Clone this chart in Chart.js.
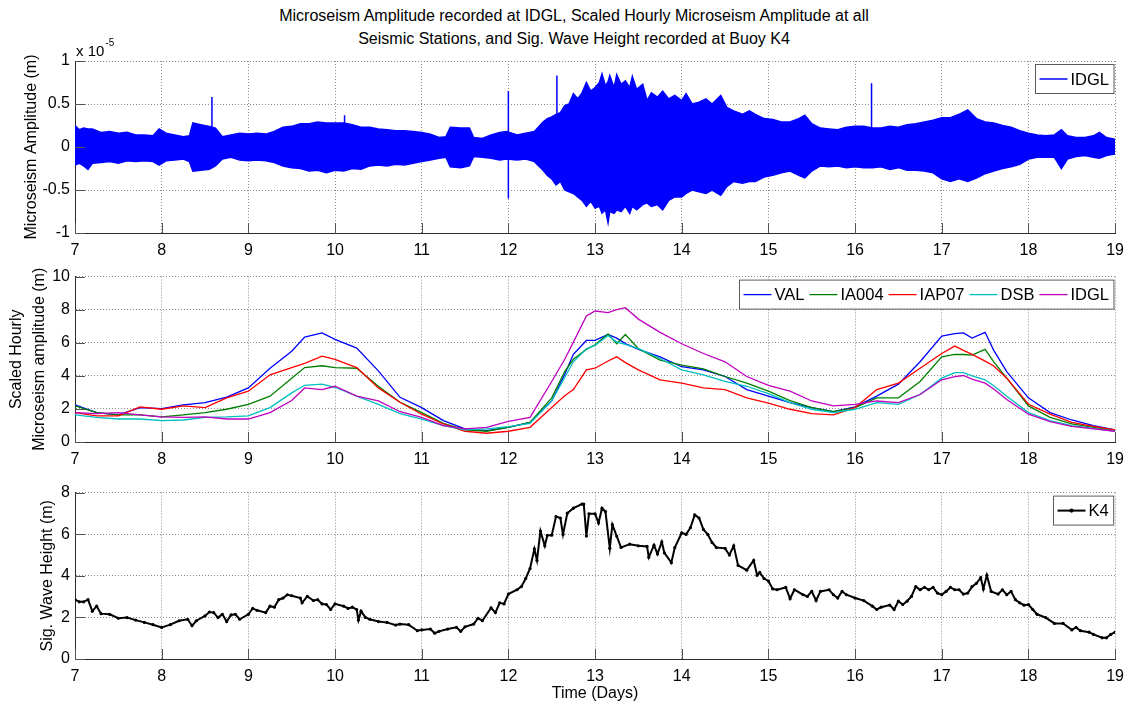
<!DOCTYPE html>
<html>
<head>
<meta charset="utf-8">
<script src="https://cdn.jsdelivr.net/npm/chart.js@4.4.0/dist/chart.umd.min.js"></script>
<style>
  body { margin: 0; background: #fff; width: 1132px; height: 709px; position: relative; overflow: hidden;
         font-family: "Liberation Sans", Arial, sans-serif; }
  .title { position: absolute; left: 0; width: 1148px; top: 4px; text-align: center; font-size: 16px; line-height: 23px; color: #000; }
  canvas { position: absolute; left: 0; }
</style>
</head>
<body>
<div class="title">Microseism Amplitude recorded at IDGL, Scaled Hourly Microseism Amplitude at all<br>Seismic Stations, and Sig. Wave Height recorded at Buoy K4</div>
<canvas id="ampChart" width="1132" height="225" style="top:35px"></canvas>
<canvas id="hourlyChart" width="1132" height="207" style="top:262px"></canvas>
<canvas id="waveChart" width="1132" height="231" style="top:478px"></canvas>
<script>
"use strict";

// ---- data (days since start, amplitudes in units of 1e-5 m) ----
const DAY_MIN = 7;
const DAY_MAX = 19;

// envelope of the raw IDGL trace
const ampDays = [
  7.00, 7.05, 7.10, 7.15, 7.20, 7.30, 7.40, 7.50, 7.60, 7.70,
  7.80, 7.90, 7.97, 8.05, 8.15, 8.25, 8.32, 8.36, 8.45, 8.55,
  8.62, 8.70, 8.80, 8.90, 9.00, 9.10, 9.20, 9.30, 9.40, 9.50,
  9.60, 9.70, 9.80, 9.90, 10.00, 10.10, 10.20, 10.30, 10.40, 10.50,
  10.60, 10.70, 10.80, 10.90, 11.00, 11.10, 11.20, 11.28, 11.33, 11.45,
  11.55, 11.60, 11.70, 11.80, 11.90, 11.98, 12.10, 12.20, 12.30,
  12.40, 12.45, 12.50, 12.55, 12.60, 12.65, 12.70, 12.75, 12.80, 12.85, 12.90,
  12.95, 13.00, 13.05, 13.08, 13.12, 13.15, 13.17, 13.22, 13.25, 13.30, 13.35,
  13.40, 13.43, 13.48, 13.55, 13.60, 13.65, 13.72, 13.78, 13.85, 13.92, 14.00,
  14.05, 14.12, 14.20, 14.28, 14.35, 14.45, 14.52, 14.60, 14.70, 14.78, 14.85,
  14.95, 15.05, 15.15, 15.25,
  15.35, 15.42, 15.50, 15.60, 15.70, 15.80, 15.90, 16.00, 16.10, 16.20,
  16.30, 16.40, 16.50, 16.60, 16.70, 16.80, 16.90, 17.00, 17.10, 17.20,
  17.30, 17.40, 17.50, 17.60, 17.70, 17.80, 17.90, 18.00, 18.10, 18.20,
  18.30, 18.38, 18.45, 18.55, 18.65, 18.75, 18.82, 18.90, 19.00
];
const ampUpper = [
  0.25, 0.20, 0.22, 0.21, 0.21, 0.17, 0.18, 0.16, 0.17, 0.14,
  0.14, 0.13, 0.21, 0.16, 0.14, 0.12, 0.13, 0.28, 0.26, 0.24,
  0.22, 0.12, 0.14, 0.16, 0.15, 0.16, 0.15, 0.18, 0.23, 0.24,
  0.27, 0.27, 0.29, 0.28, 0.28, 0.28, 0.26, 0.23, 0.23, 0.21,
  0.20, 0.19, 0.19, 0.18, 0.17, 0.15, 0.11, 0.12, 0.23, 0.22,
  0.22, 0.11, 0.10, 0.14, 0.17, 0.18, 0.14, 0.16, 0.18,
  0.29, 0.33, 0.35, 0.38, 0.40, 0.48, 0.50, 0.62, 0.56, 0.63, 0.75,
  0.65, 0.69, 0.75, 0.85, 0.71, 0.76, 0.83, 0.69, 0.84, 0.73, 0.77,
  0.69, 0.82, 0.67, 0.73, 0.54, 0.63, 0.58, 0.65, 0.56, 0.60, 0.54,
  0.62, 0.50, 0.52, 0.56, 0.50, 0.60, 0.46, 0.42, 0.38, 0.42, 0.38,
  0.33, 0.32, 0.29, 0.29,
  0.33, 0.37, 0.27, 0.22, 0.21, 0.20, 0.23, 0.24, 0.24, 0.22,
  0.22, 0.24, 0.23, 0.26, 0.27, 0.29, 0.31, 0.34, 0.34, 0.38,
  0.43, 0.33, 0.29, 0.28, 0.25, 0.23, 0.19, 0.16, 0.14, 0.13,
  0.14, 0.20, 0.13, 0.11, 0.11, 0.13, 0.17, 0.11, 0.09
];
const ampLower = [
  -0.21, -0.19, -0.22, -0.26, -0.19, -0.18, -0.17, -0.19, -0.16, -0.17,
  -0.16, -0.17, -0.21, -0.16, -0.15, -0.14, -0.17, -0.28, -0.27, -0.26,
  -0.22, -0.14, -0.12, -0.15, -0.16, -0.15, -0.16, -0.18, -0.22, -0.24,
  -0.25, -0.28, -0.27, -0.30, -0.27, -0.28, -0.25, -0.26, -0.22, -0.21,
  -0.22, -0.20, -0.21, -0.19, -0.17, -0.15, -0.13, -0.12, -0.23, -0.24,
  -0.22, -0.11, -0.12, -0.13, -0.15, -0.14, -0.15, -0.14, -0.17,
  -0.27, -0.33, -0.37, -0.44, -0.40, -0.50, -0.52, -0.54, -0.58, -0.62, -0.69,
  -0.63, -0.71, -0.69, -0.77, -0.73, -0.88, -0.75, -0.77, -0.73, -0.75, -0.69,
  -0.77, -0.69, -0.73, -0.67, -0.65, -0.69, -0.67, -0.73, -0.62, -0.58, -0.58,
  -0.54, -0.50, -0.52, -0.54, -0.50, -0.56, -0.46, -0.40, -0.42, -0.40, -0.40,
  -0.35, -0.33, -0.30, -0.28,
  -0.33, -0.36, -0.28, -0.22, -0.23, -0.22, -0.24, -0.23, -0.24, -0.24,
  -0.23, -0.26, -0.24, -0.27, -0.27, -0.28, -0.30, -0.37, -0.40, -0.37,
  -0.40, -0.36, -0.31, -0.28, -0.25, -0.23, -0.20, -0.14, -0.12, -0.12,
  -0.12, -0.25, -0.14, -0.11, -0.10, -0.12, -0.13, -0.10, -0.08
];
// isolated glitches in the trace
const spikeDays = [8.58, 10.11, 12.00, 12.56, 16.19];
const spikeTops = [0.58, 0.37, 0.65, 0.83, 0.74];
const spikeBottoms = [0, 0, -0.60, 0, 0];

// scaled hourly amplitude, all stations
const stationDays = [
  7, 7.25, 7.5, 7.75, 8, 8.25, 8.5, 8.75,
  9, 9.25, 9.5, 9.65, 9.85,
  10, 10.25, 10.5, 10.75,
  11, 11.25, 11.5, 11.75,
  12, 12.25, 12.5, 12.65, 12.75, 12.9,
  13, 13.15, 13.25, 13.35, 13.5, 13.75,
  14, 14.25, 14.5, 14.75,
  15, 15.25, 15.5, 15.75,
  16, 16.25, 16.5, 16.75,
  17, 17.15, 17.25, 17.35, 17.5, 17.6, 17.75,
  18, 18.25, 18.5, 18.75,
  19
];
const valAmp = [
  2.24, 1.78, 1.64, 2.08, 2.02, 2.24, 2.38, 2.71,
  3.27, 4.46, 5.49, 6.34, 6.60,
  6.20, 5.68, 4.30, 2.70,
  2.08, 1.29, 0.79, 0.69,
  0.89, 1.19, 2.48, 4.10, 5.30, 6.14,
  6.14, 6.50, 6.28, 5.95, 5.60, 5.15,
  4.55, 4.36, 3.96, 3.17,
  2.77, 2.38, 2.08, 1.84,
  2.12, 2.77, 3.50, 4.85,
  6.40, 6.55, 6.60, 6.28, 6.63, 5.54, 4.26,
  2.67, 1.78, 1.33, 0.99,
  0.73
];
const ia004Amp = [
  2.18, 1.78, 1.64, 1.64, 1.52, 1.64, 1.78, 1.98,
  2.28, 2.77, 3.86, 4.50, 4.61,
  4.50, 4.46, 3.37, 2.40,
  1.78, 1.13, 0.73, 0.65,
  0.89, 1.19, 2.67, 4.26, 5.00, 5.60,
  5.88, 6.53, 5.94, 6.50, 5.64, 4.95,
  4.65, 4.42, 3.96, 3.56,
  3.07, 2.50, 2.08, 1.84,
  2.08, 2.67, 2.67, 3.66,
  5.15, 5.30, 5.29, 5.25, 5.60, 4.85, 3.86,
  2.18, 1.49, 1.09, 0.89,
  0.69
];
const iap07Amp = [
  1.78, 1.58, 1.58, 2.12, 1.98, 2.18, 2.08, 2.67,
  3.07, 4.06, 4.50, 4.75, 5.19,
  5.00, 4.50, 3.27, 2.40,
  1.68, 1.09, 0.65, 0.53,
  0.65, 0.89, 2.08, 2.80, 3.17, 4.36,
  4.46, 4.90, 5.15, 4.80, 4.36, 3.76,
  3.56, 3.27, 3.17, 2.67,
  2.35, 1.98, 1.72, 1.64,
  2.08, 3.17, 3.56, 4.46,
  5.35, 5.80, 5.54, 5.30, 4.89, 4.60, 3.86,
  2.28, 1.68, 1.19, 0.95,
  0.73
];
const dsbAmp = [
  1.64, 1.49, 1.39, 1.39, 1.29, 1.33, 1.49, 1.52,
  1.58, 2.08, 2.97, 3.43, 3.50,
  3.31, 2.77, 2.28, 1.72,
  1.39, 0.99, 0.73, 0.79,
  0.93, 1.13, 2.48, 3.90, 4.85, 5.64,
  5.84, 6.44, 6.04, 5.90, 5.64, 5.05,
  4.36, 4.06, 3.66, 3.37,
  2.92, 2.38, 1.98, 1.78,
  1.98, 2.38, 2.28, 2.87,
  3.86, 4.20, 4.20, 4.00, 3.76, 3.40, 2.77,
  1.78, 1.29, 0.99, 0.83,
  0.65
];
const idglAmp = [
  1.78, 1.72, 1.78, 1.64, 1.52, 1.49, 1.52, 1.39,
  1.39, 1.78, 2.51, 3.27, 3.17,
  3.37, 2.77, 2.48, 1.83,
  1.49, 0.99, 0.79, 0.89,
  1.25, 1.49, 3.66, 5.00, 6.04, 7.62,
  7.92, 7.82, 8.00, 8.12, 7.43, 6.63,
  5.94, 5.35, 4.85, 3.96,
  3.42, 3.07, 2.48, 2.18,
  2.28, 2.48, 2.38, 2.87,
  3.76, 3.95, 4.02, 3.80, 3.56, 3.20, 2.57,
  1.68, 1.23, 0.95, 0.79,
  0.65
];
const stationNames = ['VAL', 'IA004', 'IAP07', 'DSB', 'IDGL'];

// significant wave height at buoy K4 (m)
const k4Days = [
  7.00, 7.05, 7.10, 7.15, 7.20, 7.25, 7.30, 7.40, 7.50, 7.60,
  7.70, 7.80, 7.90, 8.00, 8.10, 8.20, 8.30, 8.35, 8.40, 8.50,
  8.55, 8.60, 8.65, 8.70, 8.75, 8.80, 8.85, 8.90, 9.00, 9.05,
  9.10, 9.20, 9.25, 9.30, 9.35, 9.40, 9.45, 9.50, 9.60, 9.62,
  9.68, 9.75, 9.80, 9.85, 9.90, 9.95, 10.00, 10.10, 10.15, 10.20,
  10.25, 10.27, 10.30, 10.35, 10.40, 10.50, 10.60, 10.70, 10.75, 10.85,
  10.95, 11.00, 11.10, 11.15, 11.20, 11.30, 11.40, 11.45, 11.50, 11.60,
  11.65, 11.70, 11.80, 11.85, 11.90, 11.95, 12.00, 12.10, 12.15, 12.20,
  12.25, 12.30, 12.33, 12.37, 12.42, 12.45, 12.50, 12.55, 12.60, 12.63,
  12.68, 12.75, 12.85, 12.87, 12.90, 12.93, 13.00, 13.04, 13.08, 13.12,
  13.17, 13.20, 13.25, 13.30, 13.40, 13.50, 13.60, 13.62, 13.68, 13.72,
  13.77, 13.80, 13.88, 13.92, 14.00, 14.05, 14.10, 14.15, 14.20, 14.25,
  14.30, 14.35, 14.40, 14.50, 14.55, 14.60, 14.65, 14.75, 14.83, 14.87,
  14.90, 14.95, 15.00, 15.05, 15.10, 15.20, 15.25, 15.30, 15.40, 15.45,
  15.50, 15.55, 15.60, 15.70, 15.75, 15.80, 15.85, 15.90, 16.00, 16.10,
  16.20, 16.25, 16.30, 16.40, 16.45, 16.50, 16.55, 16.60, 16.65, 16.70,
  16.75, 16.80, 16.85, 16.90, 16.95, 17.00, 17.05, 17.10, 17.15, 17.20,
  17.25, 17.30, 17.35, 17.40, 17.45, 17.48, 17.52, 17.57, 17.65, 17.70,
  17.75, 17.80, 17.85, 17.90, 17.95, 18.00, 18.05, 18.10, 18.20, 18.30,
  18.40, 18.50, 18.55, 18.60, 18.70, 18.75, 18.85, 18.90, 18.95, 19.00
];
const k4Height = [
  2.85, 2.75, 2.75, 2.85, 2.30, 2.54, 2.18, 2.15, 1.96, 1.99,
  1.87, 1.76, 1.65, 1.52, 1.65, 1.84, 1.91, 1.60, 1.84, 2.07,
  2.26, 2.23, 1.99, 2.15, 1.80, 2.12, 2.15, 1.91, 2.15, 2.43,
  2.34, 2.23, 2.54, 2.49, 2.85, 2.93, 3.09, 3.04, 2.93, 2.70,
  3.01, 2.81, 2.85, 2.65, 2.62, 2.38, 2.65, 2.54, 2.43, 2.49,
  2.38, 1.87, 2.30, 2.00, 1.91, 1.80, 1.76, 1.63, 1.68, 1.65,
  1.36, 1.40, 1.44, 1.24, 1.33, 1.44, 1.52, 1.33, 1.55, 1.68,
  1.96, 1.84, 2.46, 2.23, 2.70, 2.65, 3.12, 3.33, 3.48, 3.87,
  4.35, 5.29, 4.74, 6.15, 5.44, 5.95, 5.95, 6.85, 6.78, 5.99,
  7.01, 7.25, 7.45, 7.45, 5.91, 6.98, 6.98, 6.54, 7.25, 7.09,
  5.32, 6.46, 5.91, 5.36, 5.52, 5.44, 5.41, 4.89, 5.47, 5.05,
  5.63, 5.10, 4.63, 5.36, 6.07, 5.99, 6.31, 6.93, 6.78, 6.23,
  5.99, 5.60, 5.36, 5.32, 5.00, 5.44, 4.50, 4.27, 4.74, 4.03,
  4.16, 3.87, 3.75, 3.37, 3.33, 3.44, 2.90, 3.33, 3.09, 3.01,
  3.25, 2.81, 3.25, 3.33, 3.09, 2.93, 3.25, 3.09, 2.93, 2.81,
  2.54, 2.38, 2.49, 2.59, 2.38, 2.78, 2.62, 2.78, 3.01, 3.48,
  3.33, 3.44, 3.33, 3.44, 3.17, 3.09, 3.25, 3.44, 3.33, 3.33,
  3.12, 3.17, 3.48, 3.64, 3.91, 3.37, 4.03, 3.25, 3.12, 3.33,
  3.09, 3.25, 2.85, 2.70, 2.59, 2.62, 2.38, 2.15, 1.99, 1.71,
  1.71, 1.40, 1.52, 1.36, 1.29, 1.18, 1.02, 1.02, 1.18, 1.29
];

// ---- styling ----
const FONT = '"Liberation Sans", Arial, sans-serif';
const GRID_COLOR = '#8a8a8a';
const AXIS_COLOR = '#2b2b2b';
const stationColors = ['#0000ff', '#008000', '#ff0000', '#00bfbf', '#bf00bf'];

Chart.defaults.font.family = FONT;
Chart.defaults.font.size = 16;
Chart.defaults.color = '#000';
Chart.defaults.animation = false;

const pairs = (xs, ys) => xs.map((x, i) => ({ x: x, y: ys[i] }));

// matlab style inward tick marks on the left and bottom axes
const inwardTicks = {
  id: 'inwardTicks',
  afterDatasetsDraw(chart) {
    const { ctx, chartArea: a, scales } = chart;
    ctx.save();
    ctx.strokeStyle = '#555';
    ctx.lineWidth = 1;
    ctx.beginPath();
    scales.x.ticks.forEach(t => {
      const px = Math.round(scales.x.getPixelForValue(t.value)) + 0.5;
      ctx.moveTo(px, a.bottom);
      ctx.lineTo(px, a.bottom - 10);
    });
    scales.y.ticks.forEach(t => {
      const py = Math.round(scales.y.getPixelForValue(t.value)) + 0.5;
      ctx.moveTo(a.left, py);
      ctx.lineTo(a.left + 10, py);
    });
    ctx.stroke();
    ctx.restore();
  }
};

// boxed legend in the upper right corner, drawn over the data
const boxLegend = {
  id: 'boxLegend',
  afterDatasetsDraw(chart) {
    const { ctx, chartArea: a } = chart;
    const items = chart.data.datasets.filter(ds => ds.label);
    ctx.save();
    ctx.font = '16.5px ' + FONT;
    const sample = 28, gap = 3, trail = 5, lead = 4, h = 29;
    const widths = items.map(ds => ctx.measureText(ds.label).width);
    const w = lead + widths.reduce((s, tw) => s + sample + gap + tw + trail, 0);
    const right = a.right - 2;
    const top = a.top + 3.5;
    const left = Math.round(right - w) + 0.5;
    ctx.fillStyle = '#fff';
    ctx.fillRect(left, top, w, h);
    ctx.strokeStyle = '#5a5a5a';
    ctx.lineWidth = 1;
    ctx.strokeRect(left, top, w, h);
    let x = left + lead;
    const cy = top + h / 2;
    items.forEach((ds, i) => {
      ctx.strokeStyle = ds.borderColor;
      ctx.lineWidth = ds.borderWidth;
      ctx.beginPath();
      ctx.moveTo(x, cy);
      ctx.lineTo(x + sample, cy);
      ctx.stroke();
      if (ds.pointRadius > 0) {
        ctx.fillStyle = ds.borderColor;
        ctx.beginPath();
        ctx.arc(x + sample / 2, cy, ds.pointRadius + 0.5, 0, Math.PI * 2);
        ctx.fill();
      }
      x += sample + gap;
      ctx.fillStyle = '#000';
      ctx.textBaseline = 'middle';
      ctx.fillText(ds.label, x, cy + 1);
      x += widths[i] + trail;
    });
    ctx.restore();
  }
};

// "x 10^-5" multiplier above the amplitude axis
const exponentLabel = {
  id: 'exponentLabel',
  afterDraw(chart) {
    const { ctx, chartArea: a } = chart;
    ctx.save();
    ctx.fillStyle = '#000';
    ctx.textBaseline = 'middle';
    ctx.font = '15px ' + FONT;
    ctx.fillText('x 10', a.left + 1, a.top - 9);
    const w = ctx.measureText('x 10').width;
    ctx.font = '10px ' + FONT;
    ctx.fillText('-5', a.left + 2 + w, a.top - 18);
    ctx.restore();
  }
};

function xAxis(height, title) {
  return {
    type: 'linear',
    min: DAY_MIN,
    max: DAY_MAX,
    ticks: { stepSize: 1, padding: 8, maxRotation: 0, autoSkip: false },
    grid: { color: GRID_COLOR, drawTicks: false },
    border: { color: AXIS_COLOR, dash: [1, 2] },
    title: title
      ? { display: true, text: title, font: { size: 16 }, padding: { top: 0, bottom: 6 } }
      : { display: false },
    afterFit: s => { s.height = height; }
  };
}

function yAxis(min, max, step, title, titlePad, lineHeight) {
  return {
    min: min,
    max: max,
    ticks: { stepSize: step, padding: 5, callback: v => String(+v.toFixed(2)) },
    grid: { color: GRID_COLOR, drawTicks: false },
    border: { color: AXIS_COLOR, dash: [1, 2] },
    title: {
      display: true,
      text: title,
      font: { size: 16, lineHeight: lineHeight || 1.2 },
      padding: { top: titlePad, bottom: 0 }
    },
    afterFit: s => { s.width = 75; }
  };
}

function baseOptions(padTop, x, y) {
  return {
    responsive: false,
    layout: { padding: { top: padTop, right: 14, left: 0, bottom: 0 } },
    plugins: { legend: { display: false }, tooltip: { enabled: false } },
    elements: { line: { tension: 0 } },
    scales: { x: x, y: y }
  };
}

// ---- top: raw IDGL trace ----
const spikePoints = [];
spikeDays.forEach((d, i) => {
  spikePoints.push({ x: d, y: spikeBottoms[i] }, { x: d, y: spikeTops[i] }, { x: d, y: null });
});

new Chart(document.getElementById('ampChart'), {
  type: 'line',
  data: {
    datasets: [
      {
        label: 'IDGL',
        data: pairs(ampDays, ampUpper),
        borderColor: '#0000ff',
        backgroundColor: '#0000ff',
        borderWidth: 1.5,
        pointRadius: 0,
        fill: '+1'
      },
      {
        label: '',
        data: pairs(ampDays, ampLower),
        borderColor: '#0000ff',
        borderWidth: 1.5,
        pointRadius: 0,
        fill: false
      },
      {
        label: '',
        data: spikePoints,
        borderColor: '#0000ff',
        borderWidth: 1.5,
        pointRadius: 0,
        spanGaps: false,
        fill: false
      }
    ]
  },
  options: baseOptions(26, xAxis(27), yAxis(-1, 1, 0.5, 'Microseism Amplitude (m)', 22)),
  plugins: [inwardTicks, boxLegend, exponentLabel]
});

// ---- middle: scaled hourly amplitude at every station ----
const stationSeries = [valAmp, ia004Amp, iap07Amp, dsbAmp, idglAmp];

new Chart(document.getElementById('hourlyChart'), {
  type: 'line',
  data: {
    datasets: stationSeries.map((vals, i) => ({
      label: stationNames[i],
      data: pairs(stationDays, vals),
      borderColor: stationColors[i],
      borderWidth: 1.3,
      pointRadius: 0,
      fill: false,
      order: stationSeries.length - i
    }))
  },
  options: baseOptions(11, xAxis(27),
    yAxis(0, 10, 2, ['Scaled Hourly', 'Microseism amplitude (m)'], 5.5, 1.44)),
  plugins: [inwardTicks, boxLegend]
});

// ---- bottom: buoy K4 wave height ----
new Chart(document.getElementById('waveChart'), {
  type: 'line',
  data: {
    datasets: [{
      label: 'K4',
      data: pairs(k4Days, k4Height),
      borderColor: '#000',
      backgroundColor: '#000',
      borderWidth: 2,
      pointRadius: 1.6,
      pointBorderWidth: 0,
      pointBackgroundColor: '#000',
      fill: false
    }]
  },
  options: baseOptions(11, xAxis(50, 'Time (Days)'), yAxis(0, 8, 2, 'Sig. Wave Height (m)', 38)),
  plugins: [inwardTicks, boxLegend]
});
</script>
</body>
</html>
